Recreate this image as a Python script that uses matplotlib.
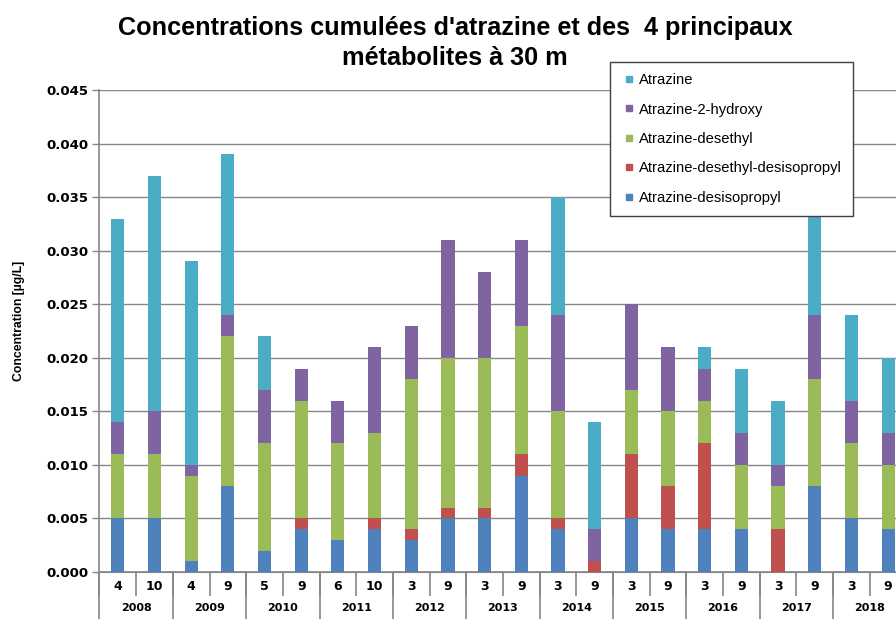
import numpy as np
import matplotlib
matplotlib.use("Agg")
import matplotlib.pyplot as plt
from matplotlib.lines import Line2D

#data (ug/L), bottom of stack first
months = ["4", "10", "4", "9", "5", "9", "6", "10", "3", "9", "3", "9", "3", "9", "3", "9", "3", "9", "3", "9", "3", "9"]
years = ["2008", "2009", "2010", "2011", "2012", "2013", "2014", "2015", "2016", "2017", "2018"]
bars_per_year = [2, 2, 2, 2, 2, 2, 2, 2, 2, 2, 2]

desisopropyl = [0.005, 0.005, 0.001, 0.008, 0.002, 0.004, 0.003, 0.004, 0.003, 0.005, 0.005,
                0.009, 0.004, 0.000, 0.005, 0.004, 0.004, 0.004, 0.000, 0.008, 0.005, 0.004]
desethyl_desisopropyl = [0.000, 0.000, 0.000, 0.000, 0.000, 0.001, 0.000, 0.001, 0.001, 0.001, 0.001,
                         0.002, 0.001, 0.001, 0.006, 0.004, 0.008, 0.000, 0.004, 0.000, 0.000, 0.000]
desethyl = [0.006, 0.006, 0.008, 0.014, 0.010, 0.011, 0.009, 0.008, 0.014, 0.014, 0.014,
            0.012, 0.010, 0.000, 0.006, 0.007, 0.004, 0.006, 0.004, 0.010, 0.007, 0.006]
hydroxy = [0.003, 0.004, 0.001, 0.002, 0.005, 0.003, 0.004, 0.008, 0.005, 0.011, 0.008,
           0.008, 0.009, 0.003, 0.008, 0.006, 0.003, 0.003, 0.002, 0.006, 0.004, 0.003]
atrazine = [0.019, 0.022, 0.019, 0.015, 0.005, 0.000, 0.000, 0.000, 0.000, 0.000, 0.000,
            0.000, 0.011, 0.010, 0.000, 0.000, 0.002, 0.006, 0.006, 0.012, 0.008, 0.007]

series = [
    ("Atrazine-desisopropyl", desisopropyl, "#4F81BD"),
    ("Atrazine-desethyl-desisopropyl", desethyl_desisopropyl, "#C0504D"),
    ("Atrazine-desethyl", desethyl, "#9BBB59"),
    ("Atrazine-2-hydroxy", hydroxy, "#8064A2"),
    ("Atrazine", atrazine, "#4BACC6"),
]

grey = "#868686"
bold_font = "DejaVu Sans"
arial_like = "Liberation Sans"

fig = plt.figure(figsize=(8.96, 6.19), dpi=100)
# axes run past the right edge, like the original screenshot
ax = fig.add_axes([0.111, 0.0759, 0.9007, 0.7787])

x = np.arange(len(months))
bottom = np.zeros(len(months))
for name, values, color in series:
    values = np.array(values)
    ax.bar(x, values, width=0.36, bottom=bottom, color=color, label=name, zorder=3)
    bottom = bottom + values

ax.set_xlim(-0.5, len(months) - 0.5)
ax.set_ylim(0, 0.045)
ax.set_yticks(np.arange(0, 0.0451, 0.005))
ax.set_yticklabels(["%.3f" % v for v in np.arange(0, 0.0451, 0.005)],
                   fontsize=9.5, fontweight="bold", family=bold_font)
ax.yaxis.grid(True, color=grey, linewidth=1, zorder=0)
ax.tick_params(axis="y", length=5, color=grey, width=1, pad=3)

for side in ["top", "right"]:
    ax.spines[side].set_visible(False)
ax.spines["left"].set_color(grey)
ax.spines["bottom"].set_color(grey)
ax.spines["left"].set_linewidth(1.2)
ax.spines["bottom"].set_linewidth(1.2)

# month row
ax.set_xticks(x)
ax.set_xticklabels(months, fontsize=9, fontweight="bold", family=bold_font)
ax.tick_params(axis="x", which="major", length=0, pad=6)
ax.set_xticks(np.arange(len(months) + 1) - 0.5, minor=True)
ax.tick_params(axis="x", which="minor", length=17, color=grey, width=1.2)

# year row
edges = np.concatenate([[0], np.cumsum(bars_per_year)]) - 0.5
centers = (edges[:-1] + edges[1:]) / 2
sec = ax.secondary_xaxis("bottom")
sec.set_xticks(edges)
sec.set_xticklabels([""] * len(edges))
sec.tick_params(axis="x", which="major", length=40, color=grey, width=1.2)
sec.set_xticks(centers, minor=True)
sec.set_xticklabels(years, minor=True, fontsize=8, fontweight="bold", family=bold_font)
sec.tick_params(axis="x", which="minor", length=0, pad=22)
sec.spines["bottom"].set_color(grey)

fig.text(0.021, 0.481, "Concentration [µg/L]", rotation=90, ha="center", va="center",
         fontsize=8.8, fontweight="bold", family=arial_like)

fig.text(0.508, 0.93, "Concentrations cumulées d'atrazine et des  4 principaux\nmétabolites à 30 m",
         ha="center", va="center", fontsize=18.2, fontweight="bold", family=arial_like, linespacing=1.3)

# legend with small square markers, top series first
legend_handles = [Line2D([], [], marker="s", linestyle="none", markersize=4.5,
                         markerfacecolor=c, markeredgecolor=c) for _, _, c in series[::-1]]
leg = fig.legend(legend_handles, [s[0] for s in series][::-1], loc="upper left",
                 bbox_to_anchor=(0.681, 0.8998), bbox_transform=fig.transFigure,
                 prop={"family": arial_like, "size": 10.6},
                 handlelength=1.1, handletextpad=0.1,
                 labelspacing=1.05, borderpad=0.75, borderaxespad=0,
                 fancybox=False, framealpha=1, edgecolor="#404040")
leg.get_frame().set_linewidth(1)

fig.savefig("out.png", dpi=100)
